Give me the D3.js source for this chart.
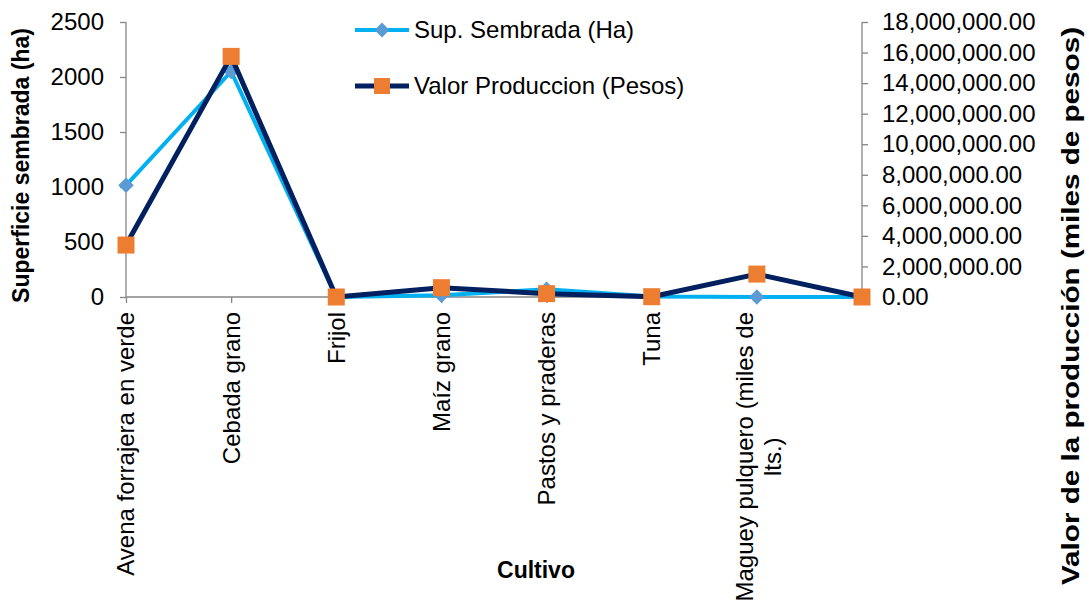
<!DOCTYPE html>
<html><head><meta charset="utf-8">
<script src="https://cdn.jsdelivr.net/npm/d3@7"></script>
<style>body{margin:0;background:#fff}svg{display:block;font-family:"Liberation Sans",Arial,sans-serif}</style>
</head><body><svg id="c" width="1089" height="607"></svg>
<script>
const categories = ["Avena forrajera en verde","Cebada grano","Frijol","Maíz grano","Pastos y praderas","Tuna","Maguey pulquero (miles de lts.)",""];
const supSembrada = [1015, 2050, 0, 15, 70, 5, 0, 0];
const valorProduccion = [3400000, 15750000, 0, 610000, 220000, 20000, 1500000, 0];
const leftTicks = [0,500,1000,1500,2000,2500];
const rightTicks = [0,2000000,4000000,6000000,8000000,10000000,12000000,14000000,16000000,18000000];
const seriesNames = ["Sup. Sembrada (Ha)","Valor Produccion (Pesos)"];

const svg = d3.select("#c");
const L=126, R=862, T=22, B=297;
const x = d3.scalePoint().domain(d3.range(categories.length)).range([L,R]);
const yL = d3.scaleLinear().domain([0,2500]).range([B,T]);
const yR = d3.scaleLinear().domain([0,18000000]).range([B,T]);
const axisCol="#868686", fs=24, tfs=23;

const gl = svg.append("g").attr("transform",`translate(${L},0)`)
  .call(d3.axisLeft(yL).tickValues(leftTicks).tickSize(6).tickPadding(16).tickFormat(d3.format("d")));
const gr = svg.append("g").attr("transform",`translate(${R},0)`)
  .call(d3.axisRight(yR).tickValues(rightTicks).tickSize(6).tickPadding(14).tickFormat(d3.format(",.2f")));
const gx = svg.append("g").attr("transform",`translate(0,${B})`)
  .call(d3.axisBottom(x).tickSize(6).tickFormat(""));
[gl,gr,gx].forEach(g=>{
  g.selectAll("path,line").attr("stroke",axisCol).attr("stroke-width",1.3);
  g.select(".domain").attr("d", g===gx? `M${L},0H${R}` : `M0,${B}V${T}`);
  g.selectAll("text").attr("font-size",fs).attr("fill","#000").attr("font-family","Liberation Sans, Arial, sans-serif");
});

// category labels
const lab = svg.append("g");
categories.forEach((c,i)=>{
  if(!c) return;
  if(c.startsWith("Maguey")){
    const t = lab.append("text").attr("font-size",fs).attr("fill","#000").attr("text-anchor","middle");
    const t1 = t.append("tspan").attr("x",0).attr("y",0).text("Maguey pulquero (miles de");
    const w = t1.node().getComputedTextLength();
    t.append("tspan").attr("x",0).attr("y",28).text("lts.)");
    t.attr("transform",`translate(${x(i)-4},${B+15+w/2}) rotate(-90)`);
  } else {
    lab.append("text").attr("transform",`translate(${x(i)},${B+15}) rotate(-90)`)
      .attr("text-anchor","end").attr("dy","0.35em").attr("font-size",fs).attr("fill","#000").text(c);
  }
});

// axis titles
svg.append("text").attr("transform",`translate(29,${(T+B)/2+6}) rotate(-90)`).attr("text-anchor","middle")
  .attr("font-size",tfs).attr("font-weight","bold").text("Superficie sembrada (ha)");
svg.append("text").attr("transform",`translate(1079,306) rotate(-90)`).attr("text-anchor","middle")
  .attr("font-size",24).attr("font-weight","bold").attr("textLength",558).attr("lengthAdjust","spacingAndGlyphs")
  .text("Valor de la producción (miles de pesos)");
svg.append("text").attr("x",536).attr("y",578).attr("text-anchor","middle")
  .attr("font-size",tfs).attr("font-weight","bold").text("Cultivo");

// series 1
const line1 = d3.line().x((d,i)=>x(i)).y(d=>yL(d));
svg.append("path").datum(supSembrada).attr("d",line1).attr("fill","none").attr("stroke","#00B0F0").attr("stroke-width",4).attr("stroke-linejoin","round");
svg.selectAll(".dm").data(supSembrada).join("path").attr("d",d3.symbol().type(d3.symbolSquare).size(120))
  .attr("transform",(d,i)=>`translate(${x(i)},${yL(d)}) rotate(45)`).attr("fill","#5B9BD5");
// series 2
const line2 = d3.line().x((d,i)=>x(i)).y(d=>yR(d));
svg.append("path").datum(valorProduccion).attr("d",line2).attr("fill","none").attr("stroke","#002060").attr("stroke-width",5).attr("stroke-linejoin","round");
svg.selectAll(".sq").data(valorProduccion).join("rect")
  .attr("x",(d,i)=>x(i)-8.5).attr("y",d=>yR(d)-8.5).attr("width",17).attr("height",17).attr("fill","#ED7D31");

// legend
const lg = svg.append("g");
[[30,"#00B0F0","#5B9BD5","d"],[86,"#002060","#ED7D31","s"]].forEach((it,k)=>{
  const [yy,lc,mc,m]=it;
  lg.append("line").attr("x1",355).attr("x2",409).attr("y1",yy).attr("y2",yy).attr("stroke",lc).attr("stroke-width",k?5:4);
  if(m==="d") lg.append("path").attr("d",d3.symbol().type(d3.symbolSquare).size(110)).attr("transform",`translate(382,${yy}) rotate(45)`).attr("fill",mc);
  else lg.append("rect").attr("x",382-8).attr("y",yy-8).attr("width",16).attr("height",16).attr("fill",mc);
  lg.append("text").attr("x",414).attr("y",yy).attr("dy","0.35em").attr("font-size",fs).text(seriesNames[k]);
});
</script></body></html>
